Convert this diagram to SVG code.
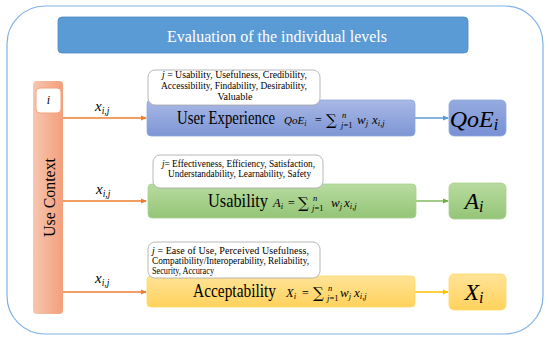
<svg xmlns="http://www.w3.org/2000/svg" width="550" height="341" viewBox="0 0 550 341">
<defs>
<linearGradient id="gUX" x1="0" y1="0" x2="0" y2="1"><stop offset="0" stop-color="#a9b8e5"/><stop offset="1" stop-color="#7d96d5"/></linearGradient>
<linearGradient id="gQ" x1="0" y1="0" x2="0" y2="1"><stop offset="0" stop-color="#95abe0"/><stop offset="1" stop-color="#7891d3"/></linearGradient>
<linearGradient id="gG" x1="0" y1="0" x2="0" y2="1"><stop offset="0" stop-color="#b8dba0"/><stop offset="1" stop-color="#94c577"/></linearGradient>
<linearGradient id="gY" x1="0" y1="0" x2="0" y2="1"><stop offset="0" stop-color="#ffe397"/><stop offset="1" stop-color="#ffd25c"/></linearGradient>
<linearGradient id="gO" x1="0" y1="0" x2="1" y2="0"><stop offset="0" stop-color="#f7c6b0"/><stop offset="1" stop-color="#f39f7b"/></linearGradient>
<marker id="aO" markerWidth="6" markerHeight="6" refX="5" refY="3" orient="auto" markerUnits="userSpaceOnUse"><path d="M0,0.5 L6,3 L0,5.5 Z" fill="#ed7d31"/></marker>
<marker id="aB" markerWidth="6" markerHeight="6" refX="5" refY="3" orient="auto" markerUnits="userSpaceOnUse"><path d="M0,0.5 L6,3 L0,5.5 Z" fill="#5b9bd5"/></marker>
<marker id="aG" markerWidth="6" markerHeight="6" refX="5" refY="3" orient="auto" markerUnits="userSpaceOnUse"><path d="M0,0.5 L6,3 L0,5.5 Z" fill="#70ad47"/></marker>
<marker id="aY" markerWidth="6" markerHeight="6" refX="5" refY="3" orient="auto" markerUnits="userSpaceOnUse"><path d="M0,0.5 L6,3 L0,5.5 Z" fill="#ffc000"/></marker>
</defs>
<style>
.m{font-style:italic}
.note{fill:#fff;stroke:#a6a6a6;stroke-width:0.8}
</style>
<rect x="7" y="6" width="536" height="328" rx="38" fill="#fff" stroke="#7fb2e5" stroke-width="1.2"/>
<g id="title">
<rect x="58" y="17" width="410" height="36" rx="4" fill="#5b9bd5" stroke="#4a89c3" stroke-width="0.8"/>
<text font-family="'Liberation Serif', serif" x="167" y="42" font-size="16.5" textLength="220" lengthAdjust="spacingAndGlyphs" fill="#fff">Evaluation of the individual levels</text>
</g>
<g id="use-context">
<rect x="33" y="81" width="30" height="233" rx="4" fill="url(#gO)"/>
<text font-family="'Liberation Serif', serif" transform="translate(55,237) rotate(-90) scale(1,1.1)" font-size="16" textLength="79" lengthAdjust="spacingAndGlyphs">Use Context</text>
<rect x="36" y="88" width="25" height="25" rx="4" fill="#fff" stroke="#f4a27f" stroke-width="1"/>
<text font-family="'Liberation Serif', serif" class="m" x="48.5" y="104" font-size="12" text-anchor="middle">i</text>
</g>
<g id="connectors" fill="none" stroke-width="1.3">
<line x1="63" y1="118" x2="146" y2="118" stroke="#ed7d31" marker-end="url(#aO)"/>
<line x1="63" y1="201" x2="146" y2="201" stroke="#ed7d31" marker-end="url(#aO)"/>
<line x1="63" y1="292" x2="146" y2="292" stroke="#ed7d31" marker-end="url(#aO)"/>
<line x1="415" y1="118" x2="448" y2="118" stroke="#5b9bd5" marker-end="url(#aB)"/>
<line x1="416" y1="201" x2="448" y2="201" stroke="#70ad47" marker-end="url(#aG)"/>
<line x1="415" y1="292" x2="448" y2="292" stroke="#ffc000" marker-end="url(#aY)"/>
</g>
<g id="labels">
<text font-family="'Liberation Serif', serif" class="m" x="95" y="111" font-size="15">x<tspan font-size="9.5" dy="3">i,j</tspan></text>
<text font-family="'Liberation Serif', serif" class="m" x="96" y="194" font-size="15">x<tspan font-size="9.5" dy="3">i,j</tspan></text>
<text font-family="'Liberation Serif', serif" class="m" x="95" y="283" font-size="15">x<tspan font-size="9.5" dy="3">i,j</tspan></text>
</g>
<g id="user-experience">
<rect x="147" y="100" width="268" height="36" rx="4" fill="url(#gUX)" stroke="#8ea9dc" stroke-width="0.8"/>
<text font-family="'Liberation Serif', serif" transform="translate(177,124) scale(1,1.2)" x="0" y="0" font-size="15" textLength="98" lengthAdjust="spacingAndGlyphs">User Experience</text>
<text font-family="'Liberation Serif', serif" class="m" x="284" y="124" font-size="11">QoE<tspan font-size="8" dy="2">i</tspan></text>
<text font-family="'Liberation Serif', serif" x="315" y="124" font-size="12">=</text>
<text font-family="'DejaVu Serif', serif" x="326" y="125" font-size="15">∑</text>
<text font-family="'Liberation Serif', serif" class="m" x="342" y="118" font-size="8.5">n</text>
<text font-family="'Liberation Serif', serif" class="m" x="341" y="128" font-size="8.5">j<tspan font-style="normal">=1</tspan></text>
<text font-family="'Liberation Serif', serif" class="m" x="357" y="124" font-size="13">w<tspan font-size="8.5" dy="2">j</tspan></text>
<text font-family="'Liberation Serif', serif" class="m" x="372" y="124" font-size="13">x<tspan font-size="8.5" dy="2">i,j</tspan></text>
<rect class="note" x="148" y="70" width="172" height="35" rx="7"/>
<text font-family="'Liberation Serif', serif" font-size="10" x="162" y="78" textLength="145" lengthAdjust="spacingAndGlyphs"><tspan font-style="italic">j</tspan> = Usability, Usefulness, Credibility,</text>
<text font-family="'Liberation Serif', serif" font-size="10" x="161" y="89" textLength="146" lengthAdjust="spacingAndGlyphs">Accessibility, Findability, Desirability,</text>
<text font-family="'Liberation Serif', serif" font-size="10" x="235" y="100" text-anchor="middle">Valuable</text>
</g>
<g id="qoe">
<rect x="449" y="100" width="57" height="36" rx="5" fill="url(#gQ)" stroke="#8ea9dc" stroke-width="0.8"/>
<text font-family="'Liberation Serif', serif" class="m" x="474" y="127" font-size="24" text-anchor="middle">QoE<tspan font-size="16" dy="3">i</tspan></text>
</g>
<g id="usability">
<rect x="148" y="184" width="268" height="34" rx="4" fill="url(#gG)" stroke="#a9d18e" stroke-width="0.8"/>
<text font-family="'Liberation Serif', serif" transform="translate(208,207) scale(1,1.15)" x="0" y="0" font-size="16" textLength="60" lengthAdjust="spacingAndGlyphs">Usability</text>
<text font-family="'Liberation Serif', serif" class="m" x="273" y="207" font-size="12.5">A<tspan font-size="8.5" dy="2">i</tspan></text>
<text font-family="'Liberation Serif', serif" x="288" y="207" font-size="12">=</text>
<text font-family="'DejaVu Serif', serif" x="298" y="208" font-size="15">∑</text>
<text font-family="'Liberation Serif', serif" class="m" x="313" y="201" font-size="8.5">n</text>
<text font-family="'Liberation Serif', serif" class="m" x="312" y="211" font-size="8.5">j<tspan font-style="normal">=1</tspan></text>
<text font-family="'Liberation Serif', serif" class="m" x="331" y="207" font-size="13">w<tspan font-size="8.5" dy="2">j</tspan></text>
<text font-family="'Liberation Serif', serif" class="m" x="344" y="207" font-size="13">x<tspan font-size="8.5" dy="2">i,j</tspan></text>
<rect class="note" x="153" y="155" width="170" height="33" rx="7"/>
<text font-family="'Liberation Serif', serif" font-size="10" x="162" y="167" textLength="153" lengthAdjust="spacingAndGlyphs"><tspan font-style="italic">j</tspan>= Effectiveness, Efficiency, Satisfaction,</text>
<text font-family="'Liberation Serif', serif" font-size="10" x="168" y="177" textLength="143" lengthAdjust="spacingAndGlyphs">Understandability, Learnability, Safety</text>
</g>
<g id="a-i">
<rect x="449" y="183" width="57" height="36" rx="5" fill="url(#gG)" stroke="#a9d18e" stroke-width="0.8"/>
<text font-family="'Liberation Serif', serif" class="m" x="474" y="209" font-size="24" text-anchor="middle">A<tspan font-size="16" dy="3">i</tspan></text>
</g>
<g id="acceptability">
<rect x="147" y="276" width="268" height="31" rx="4" fill="url(#gY)" stroke="#ffd966" stroke-width="0.8"/>
<text font-family="'Liberation Serif', serif" transform="translate(193,297) scale(1,1.2)" x="0" y="0" font-size="15.3" textLength="83" lengthAdjust="spacingAndGlyphs">Acceptability</text>
<text font-family="'Liberation Serif', serif" class="m" x="286" y="297" font-size="12.5">X<tspan font-size="8.5" dy="2">i</tspan></text>
<text font-family="'Liberation Serif', serif" x="302" y="297" font-size="12">=</text>
<text font-family="'DejaVu Serif', serif" x="313" y="298" font-size="15">∑</text>
<text font-family="'Liberation Serif', serif" class="m" x="328" y="291" font-size="8.5">n</text>
<text font-family="'Liberation Serif', serif" class="m" x="327" y="301" font-size="8.5">j<tspan font-style="normal">=1</tspan></text>
<text font-family="'Liberation Serif', serif" class="m" x="340" y="297" font-size="13">w<tspan font-size="8.5" dy="2">j</tspan></text>
<text font-family="'Liberation Serif', serif" class="m" x="354" y="297" font-size="13">x<tspan font-size="8.5" dy="2">i,j</tspan></text>
<rect class="note" x="148" y="242" width="172" height="36" rx="7"/>
<text font-family="'Liberation Serif', serif" font-size="10" x="152" y="254" textLength="157" lengthAdjust="spacing"><tspan font-style="italic">j</tspan> = Ease of Use, Perceived Usefulness,</text>
<text font-family="'Liberation Serif', serif" font-size="10" x="152" y="264" textLength="157" lengthAdjust="spacingAndGlyphs">Compatibility/Interoperability, Reliability,</text>
<text font-family="'Liberation Serif', serif" font-size="10" x="152" y="274" textLength="62" lengthAdjust="spacingAndGlyphs">Security, Accuracy</text>
</g>
<g id="x-i">
<rect x="449" y="274" width="57" height="36" rx="5" fill="url(#gY)" stroke="#ffd966" stroke-width="0.8"/>
<text font-family="'Liberation Serif', serif" class="m" x="474" y="300" font-size="24" text-anchor="middle">X<tspan font-size="16" dy="3">i</tspan></text>
</g>
</svg>
